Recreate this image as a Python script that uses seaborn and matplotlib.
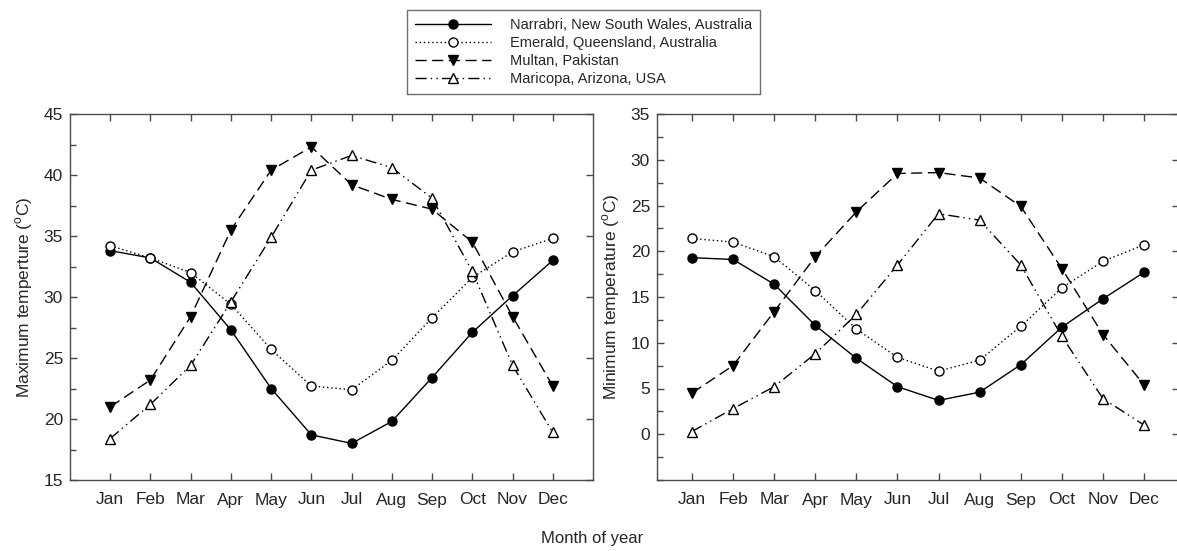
import matplotlib
matplotlib.use("Agg")
import matplotlib.pyplot as plt
import pandas as pd
import seaborn as sns
from matplotlib.ticker import MultipleLocator

months = ["Jan", "Feb", "Mar", "Apr", "May", "Jun", "Jul", "Aug", "Sep", "Oct", "Nov", "Dec"]
sites = [
    "Narrabri, New South Wales, Australia",
    "Emerald, Queensland, Australia",
    "Multan, Pakistan",
    "Maricopa, Arizona, USA",
]

# maximum temperature (oC)
tmax_narrabri = [33.8, 33.2, 31.2, 27.3, 22.5, 18.7, 18.0, 19.8, 23.4, 27.1, 30.1, 33.0]
tmax_emerald = [34.2, 33.2, 32.0, 29.4, 25.7, 22.7, 22.4, 24.8, 28.3, 31.6, 33.7, 34.8]
tmax_multan = [21.0, 23.2, 28.4, 35.5, 40.4, 42.3, 39.2, 38.0, 37.2, 34.5, 28.4, 22.7]
tmax_maricopa = [18.4, 21.2, 24.4, 29.6, 34.9, 40.4, 41.6, 40.6, 38.1, 32.1, 24.4, 18.9]

# minimum temperature (oC)
tmin_narrabri = [19.3, 19.1, 16.4, 11.9, 8.3, 5.2, 3.7, 4.6, 7.6, 11.7, 14.8, 17.7]
tmin_emerald = [21.4, 21.0, 19.4, 15.7, 11.5, 8.4, 6.9, 8.1, 11.8, 16.0, 18.9, 20.7]
tmin_multan = [4.5, 7.5, 13.4, 19.4, 24.3, 28.5, 28.6, 28.0, 24.9, 18.1, 10.9, 5.4]
tmin_maricopa = [0.3, 2.8, 5.2, 8.8, 13.1, 18.5, 24.1, 23.4, 18.5, 10.7, 3.9, 1.0]

sns.set_style("ticks")
plt.rcParams["font.family"] = ["Liberation Sans", "DejaVu Sans"]
plt.rcParams["mathtext.fontset"] = "custom"
plt.rcParams["mathtext.rm"] = "Liberation Sans"

# marker, filled?, dash pattern
styles = [
    ("o", True, ""),
    ("o", False, (1, 2)),
    ("v", True, (8, 4)),
    ("^", False, (8, 3, 1, 3, 1, 3)),
]

spine_col = "#4a4a4a"


def draw(ax, series, ylim, ylabel, xlim):
    df = pd.DataFrame({"month": months * 4,
                       "temp": sum(series, []),
                       "site": [s for s in sites for _ in months]})
    for site, (mk, filled, dash) in zip(sites, styles):
        sub = df[df.site == site]
        sns.lineplot(data=sub, x="month", y="temp", ax=ax, color="black",
                     linewidth=1, marker=mk, markersize=6.5 if mk == "o" else 7,
                     markerfacecolor="black" if filled else "white",
                     markeredgecolor="black", markeredgewidth=1,
                     label=site, sort=False)
        if dash:
            ax.lines[-1].set_dashes(dash)
    ax.set_ylim(*ylim)
    ax.set_xlim(*xlim)
    ax.yaxis.set_major_locator(MultipleLocator(5))
    ax.yaxis.set_minor_locator(MultipleLocator(2.5))
    ax.tick_params(which="both", direction="in", top=True, right=True,
                   labelsize=12.5, color=spine_col, width=1)
    ax.tick_params(which="major", length=5)
    ax.tick_params(which="minor", length=4, right=False)
    ax.tick_params(axis="x", pad=9)
    ax.tick_params(axis="y", pad=5)
    ax.set_xlabel("")
    ax.set_ylabel(ylabel, fontsize=12.5, labelpad=6)
    for sp in ax.spines.values():
        sp.set_color(spine_col)
        sp.set_linewidth(1)
    leg = ax.get_legend()
    if leg:
        leg.remove()


fig = plt.figure(figsize=(11.77, 5.51), dpi=100)
ax1 = fig.add_axes([70 / 1177, 71 / 551, 523 / 1177, 366 / 551])
ax2 = fig.add_axes([657 / 1177, 71 / 551, 522 / 1177, 366 / 551])

draw(ax1, [tmax_narrabri, tmax_emerald, tmax_multan, tmax_maricopa], (15, 45),
     r"Maximum temperture ($^{\rm o}$C)", (-1, 12))
draw(ax2, [tmin_narrabri, tmin_emerald, tmin_multan, tmin_maricopa], (-5, 35),
     r"Minimum temperature ($^{\rm o}$C)", (-0.85, 11.85))
ax2.set_yticks([0, 5, 10, 15, 20, 25, 30, 35])

handles, labels = ax1.get_legend_handles_labels()
leg = fig.legend(handles, labels, loc="upper left", bbox_to_anchor=(407 / 1177, 1 - 10 / 551),
                 fontsize=10.5, frameon=True, fancybox=False, handlelength=5.2,
                 handletextpad=1.3, labelspacing=0.28, borderpad=0.55, borderaxespad=0)
leg.get_frame().set_edgecolor(spine_col)
leg.get_frame().set_linewidth(1)

fig.text(592 / 1177, 1 - 539 / 551, "Month of year", ha="center", va="center", fontsize=12)

fig.savefig("out.png", dpi=100)
